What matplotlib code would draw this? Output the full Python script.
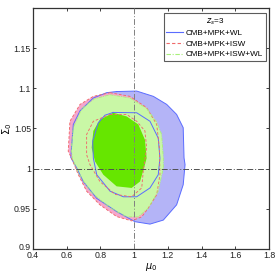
import matplotlib
matplotlib.use("Agg")
import matplotlib.pyplot as plt
import matplotlib.transforms as mtransforms
from matplotlib.ticker import FixedLocator, FixedFormatter

plt.rcParams['font.family'] = ['Liberation Sans', 'DejaVu Sans']

# ---- data: contour boundaries ----
blue_outer_x = [0.896, 1.015, 1.114, 1.193, 1.252, 1.291, 1.296, 1.302, 1.291, 1.252,
                1.173, 1.094, 1.005, 0.896, 0.778, 0.698, 0.659, 0.624, 0.639, 0.679,
                0.758, 0.837]
blue_outer_y = [1.096, 1.0966, 1.090, 1.080, 1.0675, 1.051, 1.0134, 1.005, 0.980, 0.955,
                0.936, 0.931, 0.934, 0.9466, 0.963, 0.984, 1.001, 1.014, 1.055, 1.072,
                1.088, 1.0946]

red_outer_x = [0.857, 0.975, 1.074, 1.134, 1.150, 1.153, 1.134, 1.084, 1.045, 0.985,
               0.896, 0.797, 0.718, 0.669, 0.629, 0.609, 0.619, 0.679, 0.758]
red_outer_y = [1.0946, 1.090, 1.076, 1.055, 1.025, 0.9925, 0.9675, 0.951, 0.940, 0.935,
               0.9404, 0.955, 0.972, 0.9925, 1.013, 1.0216, 1.059, 1.080, 1.090]

green_outer_x = [0.857, 0.975, 1.074, 1.134, 1.163, 1.173, 1.173, 1.143, 1.084, 1.025,
                 0.956, 0.857, 0.738, 0.669, 0.634, 0.627, 0.639, 0.690, 0.765]
green_outer_y = [1.092, 1.088, 1.075, 1.058, 1.0425, 1.014, 1.001, 0.972, 0.951, 0.940,
                 0.940, 0.951, 0.972, 0.995, 1.012, 1.025, 1.051, 1.075, 1.087]

green_inner_x = [0.876, 0.956, 1.025, 1.064, 1.074, 1.064, 1.035, 0.985, 0.896, 0.817,
                 0.768, 0.748, 0.758, 0.797]
green_inner_y = [1.0696, 1.065, 1.055, 1.036, 1.013, 1.005, 0.984, 0.976, 0.978, 0.9925,
                 1.009, 1.026, 1.047, 1.061]

blue_inner_x = [0.876, 1.015, 1.094, 1.143, 1.153, 1.143, 1.094, 1.015, 0.936, 0.857,
                0.778, 0.758, 0.754, 0.787, 0.827]
blue_inner_y = [1.070, 1.0696, 1.059, 1.038, 1.013, 0.9925, 0.976, 0.965, 0.965, 0.972,
                0.9925, 1.013, 1.034, 1.057, 1.0666]

red_inner_x = [0.857, 0.956, 1.015, 1.064, 1.074, 1.054, 1.045, 0.985, 0.886, 0.797,
               0.738, 0.718, 0.718, 0.758]
red_inner_y = [1.0675, 1.0675, 1.059, 1.047, 1.026, 0.997, 0.976, 0.965, 0.968, 0.984,
               1.005, 1.0175, 1.0425, 1.059]

fiducial_mu = 1.0
fiducial_sigma = 1.0

x_ticks = [0.4, 0.6, 0.8, 1.0, 1.2, 1.4, 1.6, 1.8]
x_ticklabels = ['0.4', '0.6', '0.8', '1', '1.2', '1.4', '1.6', '1.8']
y_ticks = [0.9, 0.95, 1.0, 1.05, 1.1, 1.15]
y_ticklabels = ['0.9', '0.95', '1', '1.05', '1.1', '1.15']

labels = ['CMB+MPK+WL', 'CMB+MPK+ISW', 'CMB+MPK+ISW+WL']
legend_title = '$z_s$=3'

# ---- styles ----
c_blue_fill = '#b4b4f7'
c_blue_line = '#5a6cff'
c_pink_fill = '#f6a6cc'
c_red_line = '#f06a6a'
c_lgreen_fill = '#c9f7a6'
c_green_fill = '#66e600'
c_green_line = '#a8f07a'

fig = plt.figure(figsize=(2.77, 2.77), dpi=100)
ax = fig.add_axes([33/277, 1 - 249/277, 236/277, 241/277])

def closed(a):
    return list(a) + [a[0]]

ax.fill(blue_outer_x, blue_outer_y, color=c_blue_fill, lw=0, zorder=1)
ax.fill(red_outer_x, red_outer_y, color=c_pink_fill, lw=0, zorder=2)
ax.fill(green_outer_x, green_outer_y, color=c_lgreen_fill, lw=0, zorder=3)
ax.fill(green_inner_x, green_inner_y, color=c_green_fill, lw=0, zorder=4)

ax.plot(closed(blue_outer_x), closed(blue_outer_y), color=c_blue_line, lw=0.7, zorder=5)
ax.plot(closed(blue_inner_x), closed(blue_inner_y), color=c_blue_line, lw=0.7, zorder=5)
ax.plot(closed(red_outer_x), closed(red_outer_y), color=c_red_line, lw=0.65,
        ls=(0, (3, 2)), zorder=5)
ax.plot(closed(red_inner_x), closed(red_inner_y), color=c_red_line, lw=0.65,
        ls=(0, (3, 2)), zorder=5)
ax.plot(closed(green_outer_x), closed(green_outer_y), color=c_green_line, lw=0.6,
        ls=(0, (4, 1.5, 1, 1.5)), zorder=5)

ax.axvline(fiducial_mu, color='#808080', lw=0.7, ls=(0, (6, 2, 1, 2)), zorder=6)
ax.axhline(fiducial_sigma, color='#505050', lw=0.7, ls=(0, (6, 2, 1, 2)), zorder=6)

ax.set_xlim(0.4, 1.8)
ax.set_ylim(0.9, 1.2)
ax.xaxis.set_major_locator(FixedLocator(x_ticks))
ax.xaxis.set_major_formatter(FixedFormatter(x_ticklabels))
ax.yaxis.set_major_locator(FixedLocator(y_ticks))
ax.yaxis.set_major_formatter(FixedFormatter(y_ticklabels))
ax.tick_params(direction='in', length=2.5, width=0.6, labelsize=6.3,
               top=True, right=True, pad=1.5, colors='#222222')
for s in ax.spines.values():
    s.set_linewidth(0.9)
    s.set_color('#333333')

ax.set_xlabel('$\\mu_0$', fontsize=7, labelpad=1)
ax.set_ylabel('$\\Sigma_0$', fontsize=7, labelpad=0)

# nudge the corner label 0.9 up so it does not sit on 0.4
fig.canvas.draw()
lab09 = ax.get_yticklabels()[0]
lab09.set_transform(lab09.get_transform() +
                    mtransforms.ScaledTranslation(0, 3/100, fig.dpi_scale_trans))

h1, = ax.plot([], [], color=c_blue_line, lw=0.8)
h2, = ax.plot([], [], color=c_red_line, lw=0.8, ls=(0, (3, 2)))
h3, = ax.plot([], [], color=c_green_line, lw=0.8, ls=(0, (4, 1.5, 1, 1.5)))
leg = ax.legend([h1, h2, h3], labels, title=legend_title, loc='upper right',
                bbox_to_anchor=(0.995, 0.985), fontsize=5.9, title_fontsize=5.9,
                frameon=True, fancybox=False, edgecolor='#333333',
                handlelength=2.0, handletextpad=0.4, borderpad=0.35,
                labelspacing=0.35, borderaxespad=0.2)
leg.get_frame().set_linewidth(0.8)
leg.set_zorder(10)

fig.savefig('out.png', dpi=100)
